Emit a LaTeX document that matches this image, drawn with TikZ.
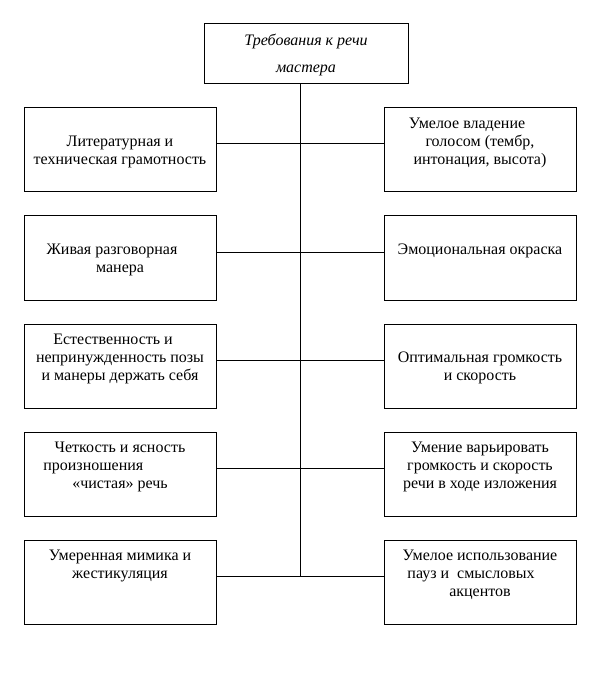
\documentclass[tikz,border=0pt]{standalone}
\usepackage{fontspec}
\setmainfont{Liberation Serif}
\usetikzlibrary{positioning}

\tikzset{
  itembox/.style = {
    draw           = black,
    line width     = 0.75pt,
    fill           = white,
    minimum width  = 144pt,
    minimum height = 63pt,
    inner sep      = 0pt
  },
  titlebox/.style = {
    itembox,
    minimum width  = 153pt,
    minimum height = 45pt
  },
  itemtext/.style = {
    align          = center,
    inner sep      = 0pt,
    font           = \fontsize{12}{13.5}\selectfont
  },
  link/.style = {
    draw           = black,
    line width     = 0.75pt
  }
}

\begin{document}
\begin{tikzpicture}[x=0.75pt, y=-0.75pt]
  \useasboundingbox[fill=white] (0,0) rectangle (613,673);

  \node[titlebox] (title) at (306,54) {};
  \node[itemtext, font=\fontsize{12}{20.25}\selectfont\itshape, below=7.5pt of title.north]
    {Требования к речи\\мастера};

  \node[itembox] (left1) at (120,150) {};
  \node[itembox] (left2) at (120,258) {};
  \node[itembox] (left3) at (120,366) {};
  \node[itembox] (left4) at (120,474) {};
  \node[itembox] (left5) at (120,582) {};

  \node[itembox] (right1) at (480,150) {};
  \node[itembox] (right2) at (480,258) {};
  \node[itembox] (right3) at (480,366) {};
  \node[itembox] (right4) at (480,474) {};
  \node[itembox] (right5) at (480,582) {};

  \node[itemtext, below=21pt of left1.north]
    {Литературная и\\техническая грамотность};
  \node[itemtext, below=21pt of left2.north]
    {Живая разговорная\rule{12pt}{0pt}\\манера};
  \node[itemtext, below=7.7pt of left3.north]
    {Естественность и\rule{10.5pt}{0pt}\\непринужденность позы\\и манеры держать себя};
  \node[itemtext, below=7.7pt of left4.north]
    {Четкость и ясность\\произношения\rule{40pt}{0pt}\\«чистая» речь};
  \node[itemtext, below=7.7pt of left5.north]
    {Умеренная мимика и\\жестикуляция};

  \node[itemtext, below=7.7pt of right1.north]
    {Умелое владение\rule{19.5pt}{0pt}\\голосом (тембр,\\интонация, высота)};
  \node[itemtext, below=21pt of right2.north]
    {Эмоциональная окраска};
  \node[itemtext, below=21pt of right3.north]
    {Оптимальная громкость\\и скорость};
  \node[itemtext, below=7.7pt of right4.north]
    {Умение варьировать\\громкость и скорость\\речи в ходе изложения};
  \node[itemtext, below=7.7pt of right5.north]
    {Умелое использование\\пауз и~ смысловых\rule{13.5pt}{0pt}\\акцентов};

  \coordinate (tail) at (300,576);
  \draw[link] (title.south -| tail) -- (tail);

  \draw[link] ([yshift=4.5pt]left1.east) -- ([yshift=4.5pt]right1.west);
  \draw[link] ([yshift=4.5pt]left2.east) -- ([yshift=4.5pt]right2.west);
  \draw[link] ([yshift=4.5pt]left3.east) -- ([yshift=4.5pt]right3.west);
  \draw[link] ([yshift=4.5pt]left4.east) -- ([yshift=4.5pt]right4.west);
  \draw[link] ([yshift=4.5pt]left5.east) -- ([yshift=4.5pt]right5.west);
\end{tikzpicture}
\end{document}
